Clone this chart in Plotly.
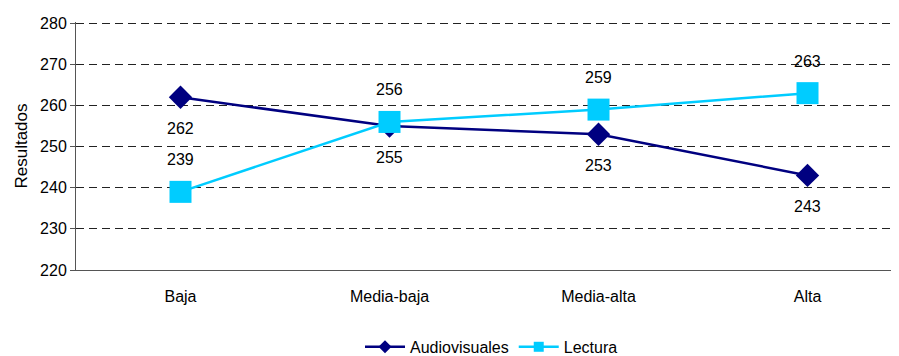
import plotly.graph_objects as go

categories = ["Baja", "Media-baja", "Media-alta", "Alta"]
audiovisuales = [262, 255, 253, 243]
lectura = [239, 256, 259, 263]
y_ticks = [220, 230, 240, 250, 260, 270, 280]

FONT = "Liberation Sans, Arial, sans-serif"
NAVY = "#000080"
CYAN = "#00CCFF"

fig = go.Figure()
fig.add_trace(go.Scatter(
    x=categories, y=audiovisuales, name="Audiovisuales", mode="lines+markers",
    line=dict(color=NAVY, width=2.5), showlegend=False,
    marker=dict(symbol="diamond", size=18, color=NAVY),
))
fig.add_trace(go.Scatter(
    x=categories, y=lectura, name="Lectura", mode="lines+markers",
    line=dict(color=CYAN, width=2.5), showlegend=False,
    marker=dict(symbol="square", size=22, color=CYAN),
))
# legend entries with small markers, as in the reference
fig.add_trace(go.Scatter(
    x=[None], y=[None], name="Audiovisuales", mode="lines+markers",
    line=dict(color=NAVY, width=2.5),
    marker=dict(symbol="diamond", size=10, color=NAVY),
))
fig.add_trace(go.Scatter(
    x=[None], y=[None], name="Lectura", mode="lines+markers",
    line=dict(color=CYAN, width=2.5),
    marker=dict(symbol="square", size=10, color=CYAN),
))

for c, v in zip(categories, audiovisuales):
    fig.add_annotation(x=c, y=v, text=str(v), showarrow=False, yshift=-31,
                       font=dict(family=FONT, size=16, color="black"))
for c, v in zip(categories, lectura):
    fig.add_annotation(x=c, y=v, text=str(v), showarrow=False, yshift=32,
                       font=dict(family=FONT, size=16, color="black"))

fig.update_layout(
    width=899, height=356,
    margin=dict(l=68, r=0, t=14, b=91),
    paper_bgcolor="white", plot_bgcolor="white",
    font=dict(family=FONT, size=16, color="black"),
    showlegend=True,
    legend=dict(orientation="h", x=0.5, xanchor="center", y=-0.31, yanchor="middle",
                font=dict(size=16), itemwidth=40, tracegroupgap=0),
    xaxis=dict(
        type="category", range=[-0.5, 3.476], showgrid=False,
        showline=True, linecolor="#555", linewidth=1,
        ticks="", zeroline=False, ticklabelstandoff=12,
    ),
    yaxis=dict(
        range=[220, 280.3], tickvals=y_ticks, showgrid=True,
        gridcolor="#222", griddash="8px,5px", gridwidth=1,
        showline=True, linecolor="#555", linewidth=1,
        ticks="outside", ticklen=5, tickcolor="#555",
        title=dict(text="Resultados", font=dict(size=17), standoff=8),
        zeroline=False,
    ),
)

fig.write_html("out.html")
